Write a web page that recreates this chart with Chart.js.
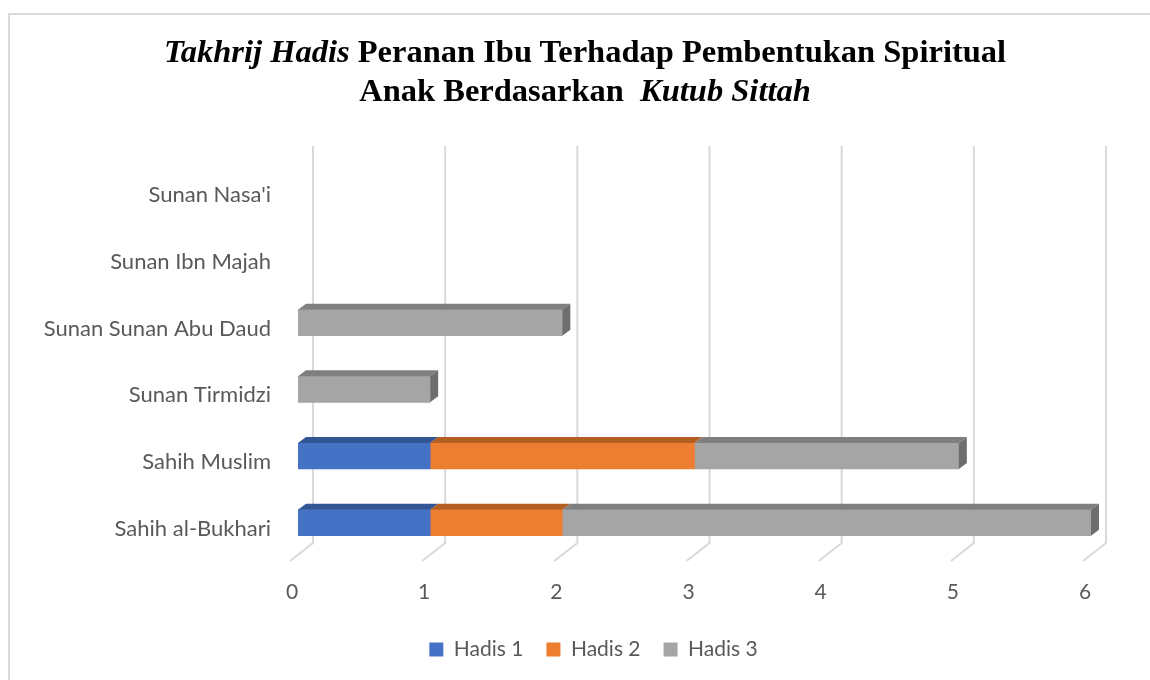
<!DOCTYPE html>
<html>
<head>
<meta charset="utf-8">
<script src="https://cdn.jsdelivr.net/npm/chart.js@4"></script>
<style>
  html, body { margin:0; padding:0; background:#fff; overflow:hidden; }
  #wrap { position:relative; width:1150px; height:680px; }
  #frame { position:absolute; left:8px; top:13px; width:1200px; height:720px; border:2px solid #d9d9d9; box-sizing:border-box; }
  #title { position:absolute; left:0; top:32px; width:1150px; padding-left:20px; box-sizing:border-box; text-align:center;
           font-family:'Liberation Serif', 'Times New Roman', serif; font-weight:bold; font-size:32.5px; line-height:39px; color:#000; }
  canvas { position:absolute; left:0; top:0; }
</style>
</head>
<body>
<div id="wrap">
  <div id="frame"></div>
  <canvas id="c" width="1150" height="680"></canvas>
  <div id="title"><i>Takhrij Hadis</i> Peranan Ibu Terhadap Pembentukan Spiritual<br>Anak Berdasarkan&nbsp; <i>Kutub Sittah</i></div>
</div>
<script>
// ---- data ----
const categories = ['Sahih al-Bukhari', 'Sahih Muslim', 'Sunan Tirmidzi', 'Sunan Sunan Abu Daud', 'Sunan Ibn Majah', "Sunan Nasa'i"];
const seriesNames = ['Hadis 1', 'Hadis 2', 'Hadis 3'];
const hadis1 = [1, 1, 0, 0, 0, 0];
const hadis2 = [1, 2, 0, 0, 0, 0];
const hadis3 = [4, 2, 1, 2, 0, 0];
const xTickValues = [0, 1, 2, 3, 4, 5, 6];

// ---- styles ----
const frontColors = ['#4472c4', '#ed7d31', '#a5a5a5'];
const topColors = ['#325596', '#b45e22', '#7f7f7f'];
const sideColors = ['#2a4a85', '#9c511c', '#6e6e6e'];
const gridColor = '#d9d9d9';
const DX = 8, DY = 6;

Chart.defaults.font.family = 'Lato';

const threeD = {
  id: 'threeD',
  afterLayout(chart) {
    if (chart.legend) { chart.legend.left += 48; chart.legend.right += 48; }
  },
  beforeDatasetsDraw(chart) {
    const ctx = chart.ctx, xs = chart.scales.x;
    ctx.save();
    ctx.strokeStyle = gridColor;
    ctx.lineWidth = 2;
    xTickValues.forEach(v => {
      const xb = xs.getPixelForValue(v) + 15;
      ctx.beginPath();
      ctx.moveTo(xb, 146);
      ctx.lineTo(xb, 543);
      ctx.lineTo(xb - 23, 561);
      ctx.stroke();
    });
    ctx.restore();
  },
  afterDatasetsDraw(chart) {
    const ctx = chart.ctx;
    const n = chart.data.labels.length;
    ctx.save();
    for (let j = 0; j < n; j++) {
      let last = null;
      chart.data.datasets.forEach((ds, i) => {
        const el = chart.getDatasetMeta(i).data[j];
        const p = el.getProps(['x', 'base', 'y', 'height'], true);
        const x0 = Math.min(p.x, p.base), x1 = Math.max(p.x, p.base);
        if (x1 - x0 < 0.5) return;
        const yt = p.y - p.height / 2, yb = p.y + p.height / 2;
        ctx.fillStyle = topColors[i];
        ctx.beginPath();
        ctx.moveTo(x0, yt);
        ctx.lineTo(x1, yt);
        ctx.lineTo(x1 + DX, yt - DY);
        ctx.lineTo(x0 + DX, yt - DY);
        ctx.closePath();
        ctx.fill();
        last = { x1, yt, yb, i };
      });
      if (last) {
        ctx.fillStyle = sideColors[last.i];
        ctx.beginPath();
        ctx.moveTo(last.x1, last.yt);
        ctx.lineTo(last.x1 + DX, last.yt - DY);
        ctx.lineTo(last.x1 + DX, last.yb - DY);
        ctx.lineTo(last.x1, last.yb);
        ctx.closePath();
        ctx.fill();
      }
    }
    ctx.restore();
  }
};

const seriesData = [hadis1, hadis2, hadis3];
new Chart(document.getElementById('c'), {
  type: 'bar',
  data: {
    labels: categories,
    datasets: seriesNames.map((name, i) => ({
      label: name,
      data: seriesData[i],
      backgroundColor: (c) => (c.raw === 0 ? 'rgba(0,0,0,0)' : frontColors[i]),
      borderWidth: 0,
      barThickness: 26
    }))
  },
  options: {
    indexAxis: 'y',
    responsive: false,
    animation: false,
    layout: { padding: { top: 156, right: 59, bottom: 10, left: 0 } },
    scales: {
      x: {
        stacked: true, min: 0, max: 6,
        grid: { display: false }, border: { display: false },
        ticks: { stepSize: 1, color: '#595959', font: { family: 'Lato', size: 21 }, padding: 16, labelOffset: -6 },
        afterFit(s) { s.height = 60; }
      },
      y: {
        stacked: true, reverse: true,
        grid: { display: false }, border: { display: false },
        ticks: { color: '#595959', font: { family: 'Lato', size: 22 }, padding: 19, labelOffset: 6 },
        afterFit(s) { s.width = 298; }
      }
    },
    plugins: {
      legend: {
        position: 'bottom',
        labels: {
          boxWidth: 14, boxHeight: 14, color: '#595959', font: { family: 'Lato', size: 21 }, padding: 23,
          generateLabels(chart) {
            return chart.data.datasets.map((ds, i) => ({
              text: ds.label, fillStyle: frontColors[i], strokeStyle: frontColors[i], lineWidth: 0,
              fontColor: '#595959', datasetIndex: i, hidden: false
            }));
          }
        }
      },
      tooltip: { enabled: false }
    }
  },
  plugins: [threeD]
});
</script>
</body>
</html>
